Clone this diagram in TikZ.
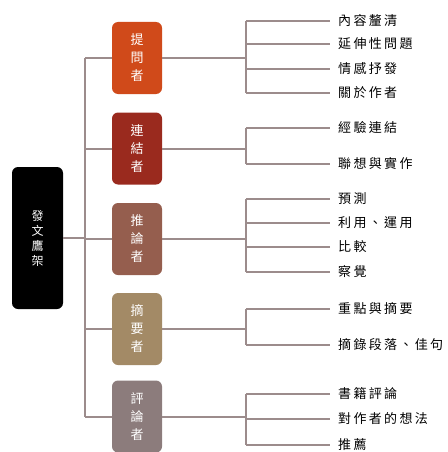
\documentclass[tikz,border=0pt]{standalone}
\usepackage{fontspec}
\newfontfamily\cjk[LetterSpace=18]{Noto Sans CJK TC}
\newfontfamily\cjkbox{Noto Sans CJK TC}
\definecolor{cA}{HTML}{D04A1A}
\definecolor{cB}{HTML}{9A2A1E}
\definecolor{cC}{HTML}{955E4E}
\definecolor{cD}{HTML}{A38A66}
\definecolor{cE}{HTML}{8C7C7C}
\definecolor{ln}{HTML}{9C8C8C}
\begin{document}
\begin{tikzpicture}[x=1pt,y=-1pt,
  rolebox/.style={rounded corners=6pt, minimum width=50pt, minimum height=72pt, inner sep=0pt,
    text=white, font=\cjkbox\fontsize{13}{18}\selectfont, align=center},
  rootbox/.style={rounded corners=6pt, fill=black, minimum width=51pt, minimum height=142pt, inner sep=0pt,
    text=white, font=\cjkbox\fontsize{12}{15}\selectfont, align=center},
  leaf/.style={anchor=west, inner sep=0pt, font=\cjk\fontsize{13}{15}\selectfont, text=black},
  conn/.style={draw=ln, line width=2pt}
]
\useasboundingbox (0,0) rectangle (447,452);
\node[rootbox] (root) at (37.5,238) {發\\文\\鷹\\架};
\node[rolebox, fill=cA] (r1) at (137,58) {提\\問\\者};
\node[rolebox, fill=cB] (r2) at (137,148.5) {連\\結\\者};
\node[rolebox, fill=cC] (r3) at (137,239) {推\\論\\者};
\node[rolebox, fill=cD] (r4) at (137,329) {摘\\要\\者};
\node[rolebox, fill=cE] (r5) at (137,416.5) {評\\論\\者};

\coordinate (t1) at (85,58);
\coordinate (t5) at (85,416.5);
\coordinate (tr) at (85,238);
\draw[conn] (t1) -- (t5);
\draw[conn] (root.east) -- (tr);
\foreach \r in {r1,r2,r3,r4,r5} { \draw[conn] (\r.west) -- (85,0 |- \r.west); }

% leaves
\foreach \y/\t [count=\i] in {21/內容釐清, 44/延伸性問題, 69/情感抒發, 93/關於作者,
  128/經驗連結, 164/聯想與實作,
  199/預測, 223/利用、運用, 247/比較, 272/察覺,
  309/重點與摘要, 345/摘錄段落、佳句,
  394/書籍評論, 419/對作者的想法, 445/推薦} {
  \coordinate (e\i) at (330,\y);
  \node[leaf] (l\i) at (338,\y) {\t};
}
% group branches
\newcommand{\grp}[3]{%
  \draw[conn] (#1.east) -- (246,0 |- #1.east);
  \draw[conn] (246,0 |- e#2) -- (246,0 |- e#3);
  \foreach \k in {#2,...,#3} { \draw[conn] (246,0 |- e\k) -- (e\k); }
}
\grp{r1}{1}{4}
\grp{r2}{5}{6}
\grp{r3}{7}{10}
\grp{r4}{11}{12}
\grp{r5}{13}{15}
\end{tikzpicture}
\end{document}
